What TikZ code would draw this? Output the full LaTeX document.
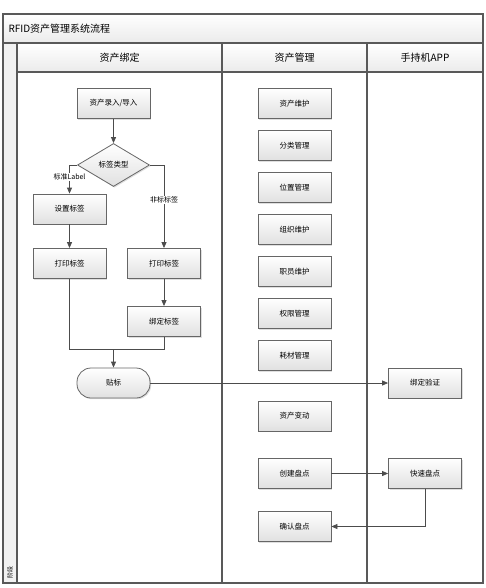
\documentclass[tikz,border=0pt]{standalone}
\usepackage{fontspec}
\newfontfamily\cjk{Noto Sans CJK SC}
\usetikzlibrary{shapes.geometric,arrows.meta,shadows}

\begin{document}
\begin{tikzpicture}[x=1pt,y=-1pt,
  frame/.style={draw=black!65,line width=1.2pt},
  box/.style={rectangle,draw=black!60,line width=0.8pt,top color=white,bottom color=black!12,
    minimum width=73pt,minimum height=30pt,inner sep=1pt,font=\cjk\fontsize{7.5}{9}\selectfont,
    drop shadow={opacity=0.25,shadow xshift=1.2pt,shadow yshift=-1.2pt}},
  choice/.style={box,diamond,minimum width=72pt,minimum height=43pt,inner sep=0pt,aspect=1.67},
  term/.style={box,rounded corners=14pt},
  line/.style={draw=black!70,line width=0.8pt},
  arr/.style={line,-{Triangle[length=6pt,width=5pt]}},
  lbl/.style={fill=white,inner sep=1pt,font=\cjk\fontsize{7}{8}\selectfont},
  head/.style={font=\cjk\fontsize{10}{12}\selectfont}]
  \useasboundingbox (0,0) rectangle (486,588);

  % swimlane frame
  \fill[top color=white,bottom color=black!8] (3,14) rectangle (483,43);
  \fill[top color=white,bottom color=black!8] (17,43) rectangle (483,72);
  \fill[black!5] (3,43) rectangle (17,583);
  \draw[frame] (3,14) rectangle (483,583);
  \draw[frame] (3,43) -- (483,43);
  \draw[frame] (17,72) -- (483,72);
  \draw[frame] (17,43) -- (17,583);
  \draw[frame] (222,43) -- (222,583);
  \draw[frame] (367,43) -- (367,583);
  \node[head,anchor=west] (title) at (5,29) {RFID资产管理系统流程};
  \node[head] (lane1) at (119.5,57.5) {资产绑定};
  \node[head] (lane2) at (294.5,57.5) {资产管理};
  \node[head] (lane3) at (425,57.5) {手持机APP};
  \node[rotate=90,font=\cjk\fontsize{6}{7}\selectfont] (phase) at (10,572) {阶段};

  % asset binding
  \node[box] (in) at (113.5,103.5) {资产录入/导入};
  \node[choice] (typ) at (113.5,165) {标签类型};
  \node[box] (set) at (69.5,209) {设置标签};
  \node[box] (prL) at (69.5,263.5) {打印标签};
  \node[box] (prR) at (164,263.5) {打印标签};
  \node[box] (bind) at (164,321.5) {绑定标签};
  \node[term] (tie) at (113.5,383) {贴标};
  \coordinate (join) at (113.5,349);
  \draw[arr] (in) -- (typ);
  \draw[arr] (typ.west) -| node[lbl,pos=0.71] {标准Label} (set.north);
  \draw[arr] (typ.east) -| node[lbl,pos=0.71] {非标标签} (prR.north);
  \draw[arr] (set) -- (prL);
  \draw[arr] (prR) -- (bind);
  \draw[line] (prL.south) |- (join);
  \draw[line] (bind.south) |- (join);
  \draw[arr] (join) -- (tie.north);

  % asset management
  \foreach \j/\t in {1/资产维护,2/分类管理,3/位置管理,4/组织维护,5/职员维护,6/权限管理,7/耗材管理}
    \node[box] (m\j) at (294.5,{103.5+42*(\j-1)}) {\t};
  \node[box] (chg) at (294.5,416) {资产变动};
  \node[box] (cre) at (294.5,473.5) {创建盘点};
  \node[box] (conf) at (294.5,526.5) {确认盘点};

  % handheld app
  \node[box] (verify) at (425,383) {绑定验证};
  \node[box] (quick) at (425,473.5) {快速盘点};
  \draw[arr] (tie) -- (verify);
  \draw[arr] (cre) -- (quick);
  \draw[arr] (quick.south) |- (conf.east);
\end{tikzpicture}
\end{document}
